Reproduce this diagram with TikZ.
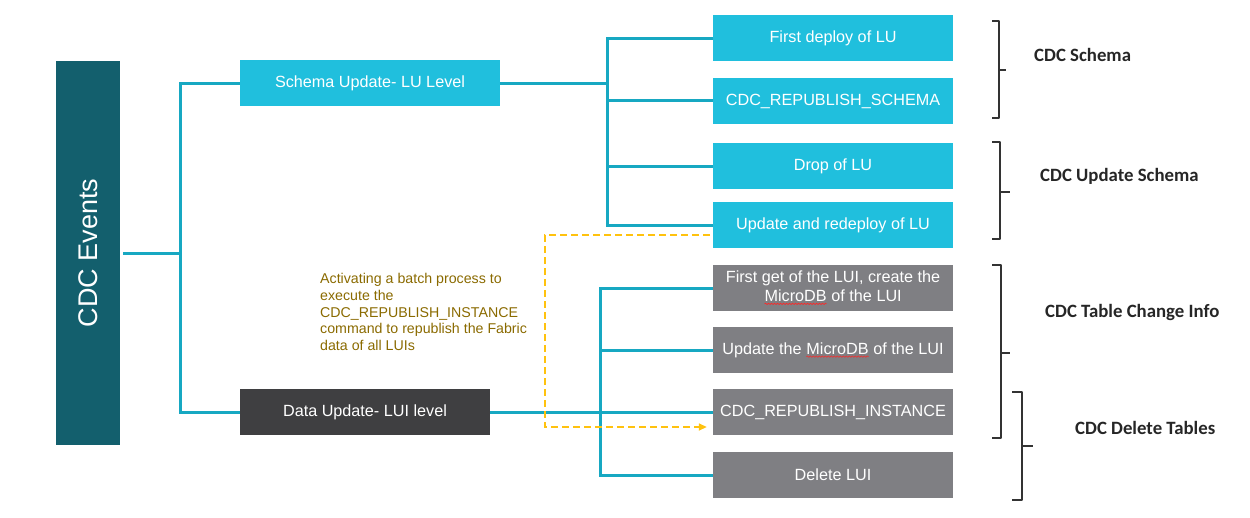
\documentclass[tikz,border=0pt]{standalone}
\usepackage{fontspec}
\setmainfont{Liberation Sans}
\newfontfamily\lblfont{Carlito}
\usetikzlibrary{calc,arrows.meta,decorations.pathmorphing}
\definecolor{evteal}{HTML}{135F6D}
\definecolor{boxcyan}{HTML}{20BFDD}
\definecolor{linecyan}{HTML}{17A8C2}
\definecolor{boxgray}{HTML}{7F7F83}
\definecolor{boxdark}{HTML}{3F3F41}
\definecolor{dashyel}{HTML}{FFC20E}
\definecolor{notecol}{HTML}{8A6A00}
\definecolor{brk}{HTML}{333333}
\newcommand\squig[1]{\tikz[baseline=(w.base)]{\node[inner sep=0pt,outer sep=0pt,minimum width=0pt,minimum height=0pt,text=white,anchor=center](w){#1};\draw[red!85!white,line width=0.6pt,decorate,decoration={snake,amplitude=0.7pt,segment length=3pt}] ([yshift=-2.5pt]w.base west) -- ([yshift=-2.5pt]w.base east);}}
\tikzset{
  box/.style={minimum width=240pt,minimum height=46pt,inner sep=0pt,text=white,align=center,font=\fontsize{16.2}{18.5}\selectfont},
  cbox/.style={box,fill=boxcyan},
  gbox/.style={box,fill=boxgray},
  conn/.style={draw=linecyan,line width=3pt},
  brack/.style={draw=brk,line width=1.8pt,line join=round},
  lbl/.style={font=\lblfont\bfseries\fontsize{18.8}{22}\selectfont,text=black!85,anchor=west,inner sep=0pt}
}
\begin{document}
\begin{tikzpicture}[x=1pt,y=-1pt]
\useasboundingbox (0,0) rectangle (1250,517);
% main nodes
\node[fill=evteal,minimum width=64pt,minimum height=384pt,inner sep=0pt] (ev) at (88,253) {};
\node[text=white,rotate=90,font=\fontsize{27}{30}\selectfont] (evt) at (ev.center) {CDC Events};
\node[box,fill=boxcyan,minimum width=260pt] (su) at (370,83) {Schema Update- LU Level};
\node[box,fill=boxdark,minimum width=250pt] (du) at (365,412) {Data Update- LUI level};
% right boxes
\node[cbox] (r1) at (833,38) {First deploy of LU};
\node[cbox] (r2) at (833,101) {CDC\_REPUBLISH\_SCHEMA};
\node[cbox] (r3) at (833,166) {Drop of LU};
\node[cbox] (r4) at (833,225) {Update and redeploy of LU};
\node[gbox] (g1) at (833,288) {First get of the LUI, create the\\\squig{MicroDB} of the LUI};
\node[gbox] (g2) at (833,350) {Update the \squig{MicroDB} of the LUI};
\node[gbox] (g3) at (833,412) {CDC\_REPUBLISH\_INSTANCE};
\node[gbox] (g4) at (833,475) {Delete LUI};
% junctions
\coordinate (j1) at (180,253);
\coordinate (j2) at (607,83);
\coordinate (j3) at (600,412);
% connectors level 1
\draw[conn] ([xshift=3pt]ev.east) -- (j1);
\draw[conn,line cap=rect] (j1 |- su.west) -- (j1 |- du.west);
\draw[conn] (j1 |- su.west) -- (su.west);
\draw[conn] (j1 |- du.west) -- (du.west);
% schema branch
\draw[conn] (su.east) -- (j2);
\draw[conn,line cap=rect] (j2 |- r1.west) -- (j2 |- r4.west);
\foreach \n in {r1,r3,r4} \draw[conn] (j2 |- \n.west) -- (\n.west);
\draw[conn] ($(j2 |- r2.west)+(0,-1)$) -- ($(r2.west)+(0,-1)$);
% data branch
\draw[conn] (du.east) -- (g3.west);
\draw[conn,line cap=rect] (j3 |- g1.west) -- (j3 |- g4.west);
\foreach \n in {g1,g2,g4} \draw[conn] (j3 |- \n.west) -- (\n.west);
% dashed batch path
\coordinate (ds) at (710,235);
\coordinate (dc) at (545,427);
\draw[draw=dashyel,line width=1.6pt,dash pattern=on 7pt off 4pt,-{Triangle[length=8pt,width=7pt]}] (ds) -| (dc) -- ($(g3.west |- dc)+(-6,0)$);
% note
\node[anchor=north west,align=left,inner sep=0pt,text=notecol,font=\fontsize{14.2}{16.8}\selectfont] (note) at (320,273) {Activating a batch process to\\execute the\\CDC\_REPUBLISH\_INSTANCE\\command to republish the Fabric\\data of all LUIs};
% brackets
\draw[brack] (992,21) -- (999,21) -- (999,118) -- (992,118);
\draw[brack] (999,70) -- (1006,70);
\draw[brack] (992,142) -- (1000,142) -- (1000,239) -- (992,239);
\draw[brack] (1000,192) -- (1010,192);
\draw[brack] (992,265) -- (1001,265) -- (1001,438) -- (992,438);
\draw[brack] (1001,353) -- (1010,353);
\draw[brack] (1012,392) -- (1022,392) -- (1022,500) -- (1012,500);
\draw[brack] (1022,446) -- (1033,446);
% labels
\node[lbl] (l1) at (1034,55) {CDC Schema};
\node[lbl] (l2) at (1040,176) {CDC Update Schema};
\node[lbl] (l3) at (1045,312) {CDC Table Change Info};
\node[lbl] (l4) at (1075,428) {CDC Delete Tables};
\end{tikzpicture}
\end{document}
